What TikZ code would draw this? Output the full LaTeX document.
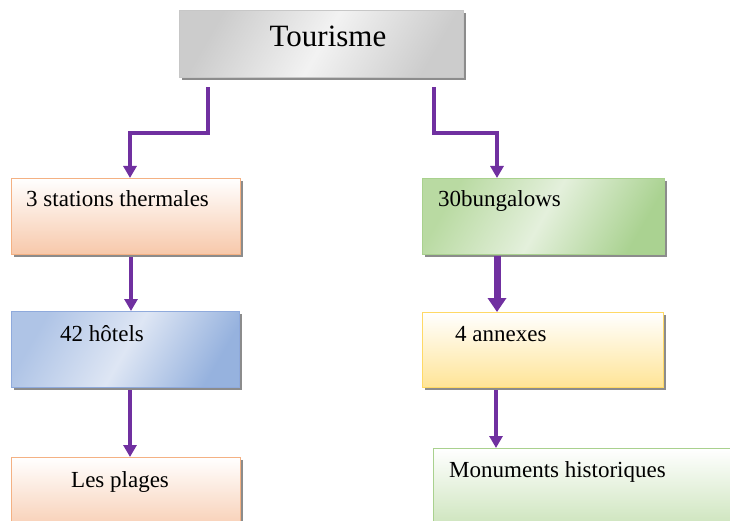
\documentclass[tikz,border=0pt]{standalone}
\usepackage{fontspec}
\setmainfont{Liberation Serif}
\usetikzlibrary{arrows.meta,shadows,calc}
\definecolor{conncol}{HTML}{7030A0}
\tikzset{
  box/.style={draw, line width=1.2pt, anchor=north west, inner sep=0pt,
    drop shadow={shadow xshift=2.5pt, shadow yshift=-2.5pt, fill=black!45, opacity=1}},
  graybox/.style={box, draw=black!22, left color=black!20, right color=black!20, middle color=black!5, shading angle=60},
  orangebox/.style={box, draw={rgb,255:red,244;green,177;blue,131}, top color=white, bottom color={rgb,255:red,247;green,200;blue,170}},
  greenbox/.style={box, draw={rgb,255:red,169;green,209;blue,142}, left color={rgb,255:red,185;green,218;blue,162}, right color={rgb,255:red,170;green,210;blue,145}, middle color={rgb,255:red,228;green,240;blue,220}, shading angle=60},
  greenbox2/.style={box, draw={rgb,255:red,169;green,209;blue,142}, top color=white, bottom color={rgb,255:red,197;green,224;blue,178}},
  bluebox/.style={box, draw={rgb,255:red,143;green,170;blue,220}, left color={rgb,255:red,175;green,196;blue,230}, right color={rgb,255:red,150;green,178;blue,222}, middle color={rgb,255:red,222;green,230;blue,244}, shading angle=60},
  yellowbox/.style={box, draw={rgb,255:red,255;green,217;blue,102}, top color=white, bottom color={rgb,255:red,255;green,228;blue,150}},
  lbl/.style={anchor=base west, inner sep=0pt, font=\fontsize{23}{26}\selectfont},
  conn/.style={draw=conncol, line width=4pt, -{Triangle[width=13pt,length=12pt]}},
  thickconn/.style={draw=conncol, line width=7pt, -{Triangle[width=18pt,length=14pt]}}
}
\begin{document}
\begin{tikzpicture}[x=1pt,y=-1pt]
\useasboundingbox (0,0) rectangle (730,521);
\clip (0,0) rectangle (730,521);
% boxes
\node[graybox, minimum width=284pt, minimum height=67pt] (tour) at (179,10) {};
\node[anchor=base, inner sep=0pt, font=\fontsize{31}{34}\selectfont] (tourt) at (328,47) {Tourisme};
\node[orangebox, minimum width=229pt, minimum height=76pt] (st) at (11,178) {};
\node[lbl] (stt) at (26,207) {3 stations thermales};
\node[greenbox, minimum width=242pt, minimum height=76pt] (bg) at (422,178) {};
\node[lbl] (bgt) at (438,207) {30bungalows};
\node[bluebox, minimum width=228pt, minimum height=76pt] (ht) at (11,311) {};
\node[lbl] (htt) at (60,341) {42 hôtels};
\node[yellowbox, minimum width=241pt, minimum height=75pt] (an) at (422,312) {};
\node[lbl] (ant) at (455,341) {4 annexes};
\node[orangebox, minimum width=229pt, minimum height=80pt] (pl) at (11,457) {};
\node[lbl] (plt) at (71,487) {Les plages};
\node[greenbox2, minimum width=320pt, minimum height=90pt] (mn) at (433,448) {};
\node[lbl] (mnt) at (449,477) {Monuments historiques};
% connectors
\coordinate (l0) at ($(tour.south west)+(29,9)$);
\coordinate (r0) at ($(tour.south west)+(255,9)$);
\draw[conn] (l0) -- ++(0,46) -| ($(st.north west)+(119,0)$);
\draw[conn] (r0) -- ++(0,46) -| ($(bg.north west)+(75,0)$);
\draw[conn] ($(st.south west)+(120,2)$) -- ($(ht.north west)+(120,0)$);
\draw[conn] ($(ht.south west)+(119,2)$) -- ($(pl.north west)+(119,0)$);
\draw[thickconn] ($(bg.south west)+(75,1)$) -- ($(an.north west)+(75,0)$);
\draw[conn] ($(an.south west)+(74,2)$) -- ($(mn.north west)+(63,0)$);
\end{tikzpicture}
\end{document}
